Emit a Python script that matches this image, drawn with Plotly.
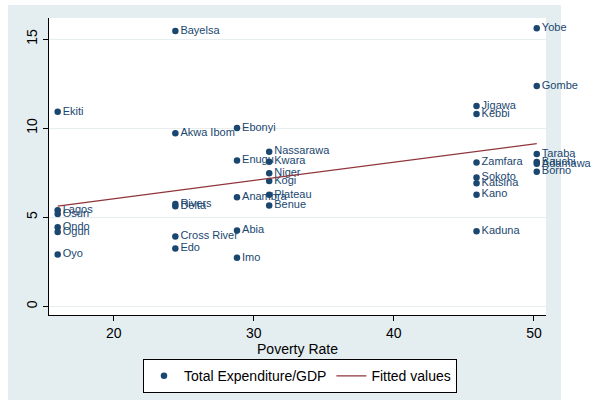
import numpy as np
import plotly.graph_objects as go

states = ["Ekiti", "Lagos", "Osun", "Ondo", "Ogun", "Oyo",
          "Bayelsa", "Akwa Ibom", "Rivers", "Delta", "Cross River", "Edo",
          "Ebonyi", "Enugu", "Anambra", "Abia", "Imo",
          "Nassarawa", "Kwara", "Niger", "Kogi", "Plateau", "Benue",
          "Jigawa", "Kebbi", "Zamfara", "Sokoto", "Katsina", "Kano", "Kaduna",
          "Yobe", "Gombe", "Taraba", "Bauchi", "Adamawa", "Borno"]
poverty = [16.0, 16.0, 16.0, 16.0, 16.0, 16.0,
           24.4, 24.4, 24.4, 24.4, 24.4, 24.4,
           28.8, 28.8, 28.8, 28.8, 28.8,
           31.1, 31.1, 31.1, 31.1, 31.1, 31.1,
           45.9, 45.9, 45.9, 45.9, 45.9, 45.9, 45.9,
           50.2, 50.2, 50.2, 50.2, 50.2, 50.2]
exp_gdp = [10.92, 5.39, 5.19, 4.44, 4.18, 2.92,
           15.45, 9.71, 5.74, 5.62, 3.92, 3.25,
           10.01, 8.18, 6.13, 4.26, 2.73,
           8.68, 8.12, 7.47, 7.03, 6.26, 5.66,
           11.24, 10.80, 8.07, 7.23, 6.91, 6.27, 4.22,
           15.60, 12.36, 8.55, 8.10, 8.00, 7.56]
x_ticks = [20, 30, 40, 50]
y_ticks = [0, 5, 10, 15]

NAVY = "#1a476f"
MAROON = "#90353b"
BG = "#e4edf0"
GRID = "#e6eef0"
FONT = "Liberation Sans, Arial, sans-serif"

slope, intercept = np.polyfit(poverty, exp_gdp, 1)
fx = np.array([min(poverty), max(poverty)])
fy = intercept + slope * fx

fig = go.Figure()
fig.add_trace(go.Scatter(
    x=poverty, y=exp_gdp, mode="markers+text", text=states,
    textposition="middle right", textfont=dict(color=NAVY, size=11, family=FONT),
    marker=dict(color=NAVY, size=6.5), name="Total Expenditure/GDP", cliponaxis=False))
fig.add_trace(go.Scatter(
    x=fx, y=fy, mode="lines", line=dict(color=MAROON, width=1.3), name="Fitted values"))

W, H = 595, 403
ml, mr, mt, mb = 49, 49, 18, 88
pw, ph = W - ml - mr, H - mt - mb


def px_x(p):
    return (p - ml) / pw


def px_y(p):
    return (H - mb - p) / ph


# light-blue graph region (Stata s2color style) behind the white plot region
fig.add_shape(type="rect", xref="paper", yref="paper", layer="below",
              x0=px_x(8), x1=px_x(561), y0=px_y(400), y1=px_y(5),
              fillcolor=BG, line=dict(width=0))
fig.add_shape(type="rect", xref="paper", yref="paper", layer="below",
              x0=0, x1=1, y0=0, y1=1,
              fillcolor="white", line=dict(width=0))

fig.update_layout(
    width=W, height=H, margin=dict(l=ml, r=mr, t=mt, b=mb, autoexpand=False),
    paper_bgcolor="white", plot_bgcolor="rgba(0,0,0,0)",
    font=dict(family=FONT, size=14, color="black"),
    showlegend=True,
    legend=dict(orientation="h", x=0.505, xanchor="center", y=-0.149, yanchor="top",
                bordercolor="black", borderwidth=1, bgcolor="white",
                font=dict(size=14, family=FONT, color="black"),
                itemwidth=30, tracegroupgap=0),
    xaxis=dict(range=[15.38, 50.86], tickvals=x_ticks, showgrid=False, zeroline=False,
               showline=True, linecolor="black", linewidth=1, ticks="outside",
               ticklen=5, tickcolor="black", automargin=False,
               tickfont=dict(size=14),
               title=dict(text="Poverty Rate", standoff=0, font=dict(size=14))),
    yaxis=dict(range=[-0.48, 16.18], tickvals=y_ticks, showgrid=True, gridcolor=GRID,
               gridwidth=1, zeroline=False, showline=True, linecolor="black",
               linewidth=1, ticks="outside", ticklen=5, tickcolor="black",
               tickangle=-90, automargin=False, tickfont=dict(size=14)),
)
fig.write_html("out.html", config={"displayModeBar": False},
               post_script="document.body.style.margin='0';document.body.style.padding='0';")
